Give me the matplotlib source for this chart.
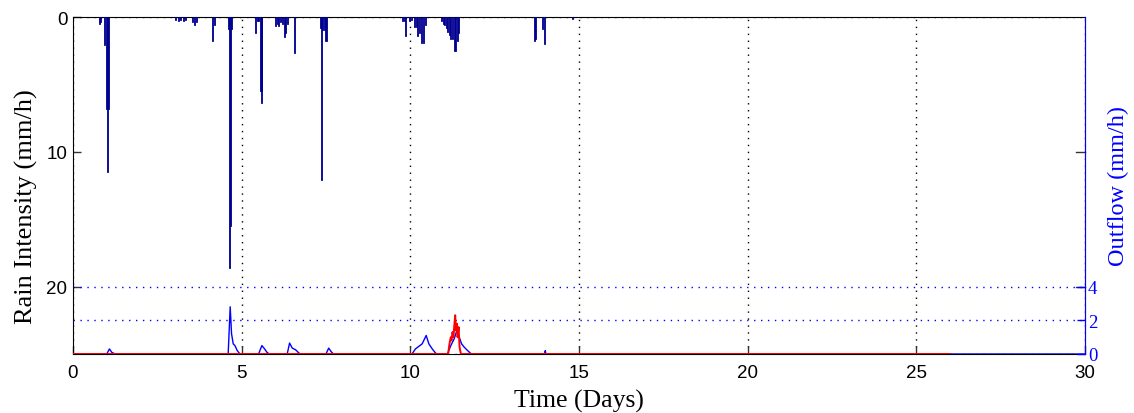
import matplotlib
matplotlib.use("Agg")
import matplotlib.pyplot as plt

# ---------------- data ----------------
# Rain intensity (mm/h) sampled at event times (days)
rain_t = [0.78, 0.82, 0.94, 0.99, 1.02, 1.05,
          3.05, 3.12, 3.2, 3.28, 3.34, 3.55, 3.6, 3.66, 4.15, 4.19,
          4.62, 4.645, 4.67, 4.71, 5.4, 5.46, 5.5, 5.55, 5.58, 5.6,
          6.0, 6.05, 6.1, 6.15, 6.2, 6.27, 6.31, 6.36, 6.57,
          7.35, 7.37, 7.4, 7.45, 7.5,
          9.78, 9.83, 9.87, 9.97, 10.02, 10.12, 10.17, 10.22, 10.28, 10.34, 10.4, 10.44,
          10.92, 10.97, 11.02, 11.06, 11.1, 11.15, 11.2, 11.25, 11.3, 11.34, 11.39, 11.44,
          13.67, 13.72, 13.93, 13.97, 14.8]
rain_v = [0.5, 0.4, 2.1, 6.8, 11.5, 6.8,
          0.25, 0.3, 0.25, 0.3, 0.2, 0.4, 0.6, 0.4, 1.8, 0.6,
          0.9, 18.6, 15.5, 0.9, 1.2, 0.3, 0.3, 5.5, 5.5, 6.4,
          0.65, 0.5, 0.65, 0.4, 0.5, 1.5, 1.2, 0.5, 2.7,
          0.8, 12.1, 1.0, 1.0, 1.8,
          0.3, 0.3, 1.4, 0.3, 0.2, 0.75, 0.75, 1.4, 1.2, 1.9, 1.9, 0.6,
          0.3, 0.5, 0.6, 0.8, 1.1, 1.3, 1.6, 1.6, 2.5, 2.5, 1.8, 1.2,
          1.8, 1.6, 0.9, 2.0, 0.15]

# Simulated outflow (mm/h)
outflow_t = [0, 1.0, 1.08, 1.15, 1.25, 4.6, 4.66, 4.7, 4.75, 4.8, 4.87, 4.95,
             5.5, 5.6, 5.68, 5.75, 5.82, 6.35, 6.42, 6.5, 6.6, 6.7, 6.75,
             7.5, 7.58, 7.65, 7.72, 10.05, 10.15, 10.25, 10.35, 10.47, 10.55, 10.65, 10.75, 10.8,
             11.1, 11.2, 11.3, 11.38, 11.45, 11.52, 11.6, 11.7, 11.78, 11.82,
             13.98, 14.0, 14.02, 30]
outflow_v = [0, 0, 0.3, 0.1, 0, 0, 2.8, 1.2, 0.6, 0.5, 0.2, 0,
             0, 0.5, 0.3, 0.1, 0, 0, 0.65, 0.35, 0.25, 0.05, 0,
             0, 0.35, 0.15, 0, 0, 0.3, 0.45, 0.6, 1.1, 0.6, 0.3, 0.05, 0,
             0, 0.5, 0.9, 1.4, 1.0, 0.6, 0.4, 0.2, 0.05, 0,
             0, 0.2, 0, 0]

# Observed outflow (mm/h)
observed_t = [0, 11.12, 11.16, 11.2, 11.22, 11.25, 11.28, 11.3, 11.33, 11.35,
              11.38, 11.4, 11.43, 11.46, 11.5, 26]
observed_v = [0, 0, 0.6, 1.0, 0.8, 1.3, 1.0, 1.6, 2.3, 1.4,
              1.8, 1.0, 1.6, 0.4, 0, 0]

x_ticks = [0, 5, 10, 15, 20, 25, 30]
rain_ticks = [0, 10, 20]
flow_ticks = [0, 2, 4]

# ---------------- plot ----------------
W, H = 1134, 414
fig = plt.figure(figsize=(W / 100, H / 100), dpi=100)
ax = fig.add_axes([73 / W, 1 - 355 / H, (1085 - 73) / W, (355 - 18) / H])
ax2 = ax.twinx()

navy = "#000090"
blue = "#0000FF"

ax.bar(rain_t, rain_v, width=0.03, color=navy, edgecolor=navy, linewidth=0.6, zorder=3)
ax.set_xlim(0, 30)
ax.set_ylim(25, 0)
ax.set_xticks(x_ticks)
ax.set_yticks(rain_ticks)
ax.xaxis.grid(True, linestyle=(0, (1, 4)), color="black", linewidth=1.0)
ax.axhline(0, color="black", linestyle=(0, (1, 4)), linewidth=1.0, zorder=4)

for lab in ax.get_xticklabels() + ax.get_yticklabels():
    lab.set_fontfamily("Liberation Sans")
    lab.set_fontsize(13.5)
ax.tick_params(axis="x", direction="in", length=6, width=1, color="#333333", pad=7)
ax.tick_params(axis="y", direction="in", length=6, width=1, color="#333333", pad=4, right=False)

ax2.plot(outflow_t, outflow_v, color=blue, linewidth=1.0, zorder=3)
ax2.plot(observed_t, observed_v, color="red", linewidth=1.4, zorder=4)
ax2.set_ylim(0, 20)
ax2.set_yticks(flow_ticks)
ax2.yaxis.grid(True, linestyle=(0, (1, 4)), color=blue, linewidth=1.0)
ax2.tick_params(axis="y", direction="in", length=6, width=1, colors=blue, pad=2)
for lab in ax2.get_yticklabels():
    lab.set_fontfamily("Liberation Serif")
    lab.set_fontsize(13.5)
    lab.set_color(blue)

# mirrored left-axis ticks on the right side (black)
for yv in rain_ticks[1:]:
    ax.plot([30 - 0.27, 30], [yv, yv], color="#333333", linewidth=1, clip_on=False, zorder=5)

for s in ["left", "top", "bottom"]:
    ax.spines[s].set_color("black")
ax2.spines["right"].set_color(blue)
ax2.spines["left"].set_visible(False)
ax2.spines["top"].set_visible(False)
ax2.spines["bottom"].set_visible(False)

ax.set_xlabel("Time (Days)", fontfamily="Liberation Serif", fontsize=18.5, labelpad=6)
ax.set_ylabel("Rain Intensity (mm/h)", fontfamily="Liberation Serif", fontsize=19)
ax.yaxis.set_label_coords(-0.0346, 0.44)
ax2.set_ylabel("Outflow (mm/h)", fontfamily="Liberation Serif", fontsize=17.5,
               color=blue, rotation=90)
ax2.yaxis.set_label_coords(1.0225, 0.5)

fig.savefig("out.png", dpi=100)
